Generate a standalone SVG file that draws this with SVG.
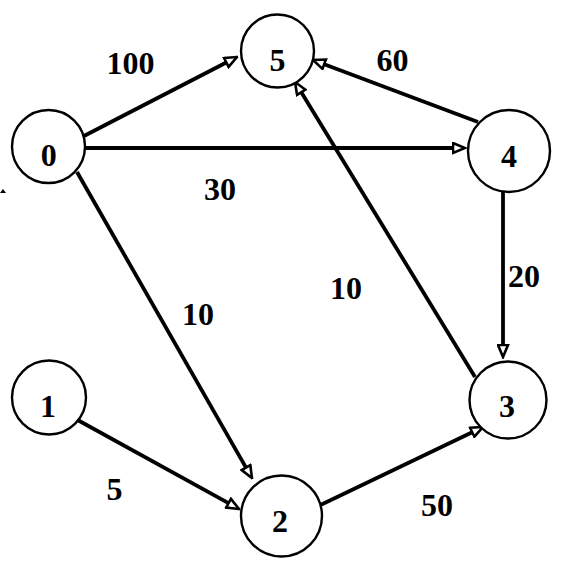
<svg xmlns="http://www.w3.org/2000/svg" width="570" height="573" viewBox="0 0 570 573">
<style>
.node circle{fill:#fff;stroke:#000;stroke-width:2.4}
text{font-family:"Liberation Serif","Times New Roman",serif;font-weight:bold;font-size:32px;fill:#000;text-anchor:middle}
.edge{stroke:#000;stroke-width:3.8;fill:none;marker-end:url(#arr)}
</style>
<defs>
<marker id="arr" viewBox="0 0 15 13" markerWidth="15" markerHeight="13" refX="1.5" refY="6.5" orient="auto" markerUnits="userSpaceOnUse">
<path d="M1.5,1.5 L13.5,6.5 L1.5,11.5 z" fill="#fff" stroke="#000" stroke-width="2.6"/>
</marker>
</defs>
<rect width="570" height="573" fill="#fff"/>
<g id="connectors">
<line class="edge" x1="82" y1="137" x2="226.3" y2="62.5"/>
<line class="edge" x1="80" y1="148" x2="453" y2="148"/>
<line class="edge" x1="478" y1="122" x2="324.2" y2="64.2"/>
<line class="edge" x1="475" y1="377" x2="301.3" y2="92.3"/>
<line class="edge" x1="503" y1="190" x2="503" y2="345"/>
<line class="edge" x1="77" y1="172" x2="246" y2="467.6"/>
<line class="edge" x1="74" y1="418" x2="228.5" y2="503.2"/>
<line class="edge" x1="308" y1="511" x2="472.2" y2="432.2"/>
</g>
<g id="node0" class="node"><circle cx="48.5" cy="146.5" r="36.5"/><text x="48.7" y="166">0</text></g>
<g id="node5" class="node"><circle cx="277.5" cy="51" r="36.5"/><text x="277.5" y="71">5</text></g>
<g id="node4" class="node"><circle cx="509" cy="151" r="41"/><text x="509" y="167">4</text></g>
<g id="node1" class="node"><circle cx="49" cy="397.5" r="37"/><text x="48" y="417">1</text></g>
<g id="node2" class="node"><circle cx="281.5" cy="516" r="40.5"/><text x="280" y="532">2</text></g>
<g id="node3" class="node"><circle cx="508" cy="400" r="38.5"/><text x="507" y="417">3</text></g>
<g id="labels">
<text x="130.5" y="74">100</text>
<text x="220" y="200">30</text>
<text x="198" y="325">10</text>
<text x="392.5" y="71">60</text>
<text x="346" y="299">10</text>
<text x="524" y="287">20</text>
<text x="437" y="516">50</text>
<text x="114.5" y="500">5</text>
</g>
<path d="M0,193 L3,189 L6,193 z" fill="#000"/>
</svg>
